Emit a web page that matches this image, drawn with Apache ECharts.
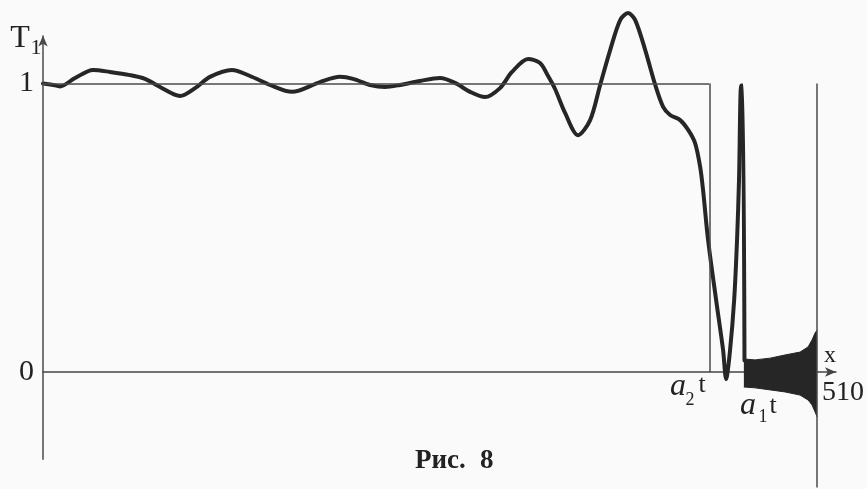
<!DOCTYPE html>
<html>
<head>
<meta charset="utf-8">
<script src="https://cdn.jsdelivr.net/npm/echarts@6/dist/echarts.min.js"></script>
<style>html,body{margin:0;padding:0;background:#fafafa;}#c{width:867px;height:489px;}</style>
</head>
<body>
<div id="c"></div>
<script>
// Main curve T1(x): [x, value]
const curveX = [0, 5.9, 11.2, 21.1, 33.0, 44.1, 57.3, 67.2, 77.1, 90.3, 100.2, 110.0, 124.5, 136.4, 149.6, 164.1,
  182.5, 195.7, 204.3, 215.5, 225.4, 235.2, 248.4, 261.6, 271.5, 281.4, 291.2, 301.1, 309.0, 319.6, 327.5, 332.8,
  337.4, 344.0, 352.5, 360.5, 367.1, 373.7, 380.3, 385.5, 390.2, 396.8, 403.4, 408.6, 413.2, 419.8, 425.1, 429.6,
  433.0, 434.9, 438.2, 443.5, 448.1, 450.1, 452.7, 455.4, 457.3, 458.6, 460.0, 461.0, 462.2];
const curveY = [1.000, 0.996, 0.990, 1.019, 1.047, 1.040, 1.029, 1.016, 0.988, 0.957, 0.984, 1.023, 1.047, 1.026, 0.995, 0.971,
  1.005, 1.023, 1.016, 0.995, 0.988, 0.995, 1.009, 1.019, 1.002, 0.971, 0.953, 0.984, 1.040, 1.085, 1.071, 1.026,
  0.981, 0.898, 0.821, 0.873, 0.995, 1.116, 1.220, 1.244, 1.220, 1.116, 0.995, 0.919, 0.891, 0.873, 0.839, 0.794,
  0.711, 0.631, 0.458, 0.250, 0.076, -0.024, 0.076, 0.250, 0.458, 0.666, 0.993, 0.993, 0.040];
// Envelope of the dense oscillation between a1t and 510
const bandX = [461.8, 469.2, 479.1, 488.9, 498.8, 504.1, 506.7, 508.7, 510];
const bandUpper = [0.045, 0.042, 0.048, 0.059, 0.069, 0.087, 0.111, 0.135, 0.145];
const bandLower = [-0.052, -0.055, -0.062, -0.069, -0.080, -0.097, -0.114, -0.138, -0.155];
// Ideal step: 1 on [0, a2t], and the end of the range
const stepEnd = 439;
const stepLevel = 1;
const xEnd = 510;
const yTickLabels = [0, 1];

const zip = (xs, ys) => xs.map((x, i) => [x, ys[i]]);
const serif = 'Liberation Serif';
const ink = '#262626';
const thin = { type: 'solid', color: '#4a4a4a', width: 1.5 };

const chart = echarts.init(document.getElementById('c'), null, { renderer: 'canvas' });
const option = {
  backgroundColor: '#fafafa',
  animation: false,
  grid: { left: 43, right: 31, top: 8.5, bottom: 1.6 },
  xAxis: {
    type: 'value', min: 0, max: 522.5,
    axisLine: { show: true, onZero: true, symbol: ['none', 'arrow'], symbolSize: [7, 11], lineStyle: { color: '#444', width: 1.5 } },
    axisTick: { show: false }, axisLabel: { show: false }, splitLine: { show: false }
  },
  yAxis: {
    type: 'value', min: -0.4, max: 1.26, interval: 0.2,
    axisLine: { show: false }, axisTick: { show: false }, splitLine: { show: false },
    axisLabel: {
      margin: 9, fontFamily: serif, fontSize: 30, color: '#222',
      formatter: v => { const hit = yTickLabels.find(t => Math.abs(t - v) < 1e-6); return hit === undefined ? '' : String(hit); }
    }
  },
  series: [
    {
      type: 'line', silent: true, data: [], symbol: 'none',
      markLine: {
        silent: true, symbol: ['none', 'none'], label: { show: false }, lineStyle: thin,
        emphasis: { disabled: true },
        data: [
          [{ coord: [0, stepLevel] }, { coord: [stepEnd, stepLevel] }],
          [{ coord: [stepEnd, stepLevel] }, { coord: [stepEnd, 0] }],
          [{ coord: [xEnd, stepLevel] }, { coord: [xEnd, -0.4] }],
          [{ coord: [0, -0.304], symbol: 'none' }, { coord: [0, 1.166], symbol: 'arrow', symbolSize: [7, 11] }]
        ]
      }
    },
    {
      type: 'line', silent: true, symbol: 'none', data: zip(bandX, bandUpper),
      lineStyle: { width: 1, color: ink }, areaStyle: { color: ink, opacity: 1 }
    },
    {
      type: 'line', silent: true, symbol: 'none', data: zip(bandX, bandLower),
      lineStyle: { width: 1, color: ink }, areaStyle: { color: ink, opacity: 1 }
    },
    {
      type: 'line', silent: true, symbol: 'none', smooth: 0.3, data: zip(curveX, curveY),
      lineStyle: { width: 4, color: ink, cap: 'round', join: 'round' }
    }
  ],
  graphic: [
    { type: 'text', style: { text: 'T', x: 20, y: 39, font: '32px "Liberation Serif"', fill: '#222', textAlign: 'center', textVerticalAlign: 'middle' } },
    { type: 'text', style: { text: '1', x: 36, y: 48, font: '22px "Liberation Serif"', fill: '#222', textAlign: 'center', textVerticalAlign: 'middle' } },
    { type: 'text', style: { text: 'x', x: 830, y: 356, font: '24px "Liberation Serif"', fill: '#222', textAlign: 'center', textVerticalAlign: 'middle' } },
    { type: 'text', style: { text: '510', x: 822, y: 393, font: '28px "Liberation Serif"', fill: '#222', textAlign: 'left', textVerticalAlign: 'middle' } },
    { type: 'text', style: { text: 'a', x: 678, y: 387, font: 'italic 32px "Liberation Serif"', fill: '#222', textAlign: 'center', textVerticalAlign: 'middle' } },
    { type: 'text', style: { text: '2', x: 690, y: 400, font: '18px "Liberation Serif"', fill: '#222', textAlign: 'center', textVerticalAlign: 'middle' } },
    { type: 'text', style: { text: 't', x: 702, y: 385, font: '26px "Liberation Serif"', fill: '#222', textAlign: 'center', textVerticalAlign: 'middle' } },
    { type: 'text', style: { text: 'a', x: 748, y: 406, font: 'italic 32px "Liberation Serif"', fill: '#222', textAlign: 'center', textVerticalAlign: 'middle' } },
    { type: 'text', style: { text: '1', x: 763, y: 417, font: '18px "Liberation Serif"', fill: '#222', textAlign: 'center', textVerticalAlign: 'middle' } },
    { type: 'text', style: { text: 't', x: 773, y: 406, font: '26px "Liberation Serif"', fill: '#222', textAlign: 'center', textVerticalAlign: 'middle' } },
    { type: 'text', style: { text: 'Рис.', x: 415, y: 461, font: 'bold 27px "Liberation Serif"', fill: '#222', textAlign: 'left', textVerticalAlign: 'middle' } },
    { type: 'text', style: { text: '8', x: 480, y: 461, font: 'bold 27px "Liberation Serif"', fill: '#222', textAlign: 'left', textVerticalAlign: 'middle' } }
  ]
};
chart.setOption(option);
</script>
</body>
</html>
